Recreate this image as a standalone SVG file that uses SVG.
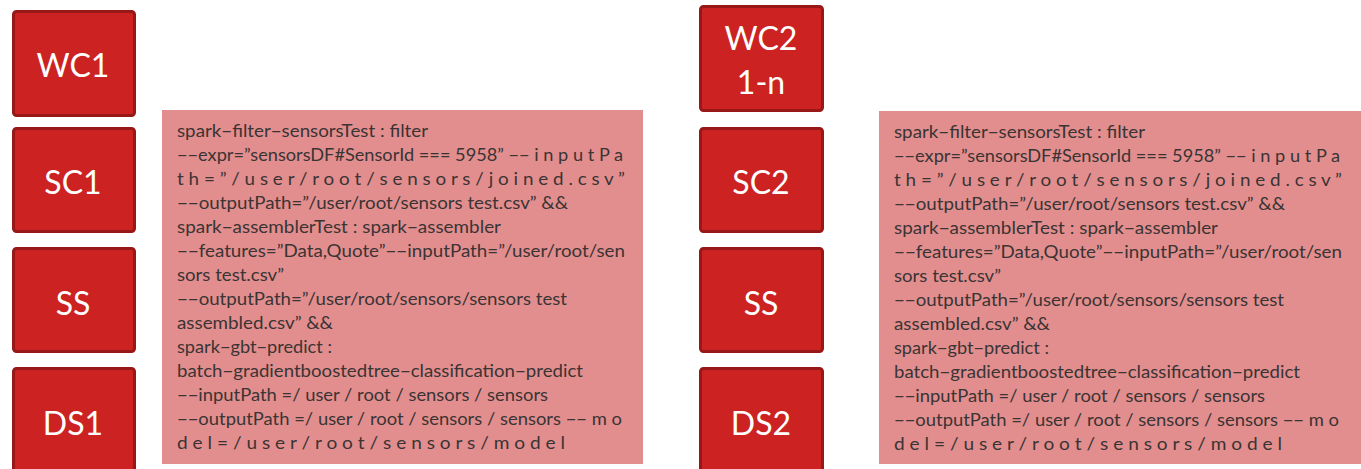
<svg xmlns="http://www.w3.org/2000/svg" width="1361" height="469" viewBox="0 0 1361 469">
<style>
.box{fill:#cc2222;stroke:#981818;stroke-width:3}
.lbl{font-family:Lato,"Open Sans","Liberation Sans",sans-serif;font-size:32px;fill:#ffffff;text-anchor:middle}
.panel{fill:#e38e8e}
.code{font-family:Lato,"Open Sans","Liberation Sans",sans-serif;font-size:16.5px;fill:#3a3434}
</style>
<rect width="1361" height="469" fill="#ffffff"/>
<g id="connectors"></g>
<g id="WC1"><rect class="box" x="13.5" y="11.5" width="121" height="104" rx="3"/><text class="lbl" x="73" y="77">WC1</text></g>
<g id="SC1"><rect class="box" x="13.5" y="128.5" width="121" height="103" rx="3"/><text class="lbl" x="73" y="194">SC1</text></g>
<g id="SS1"><rect class="box" x="13.5" y="248.5" width="121" height="103" rx="3"/><text class="lbl" x="73" y="315">SS</text></g>
<g id="DS1"><rect class="box" x="13.5" y="368.5" width="121" height="110" rx="3"/><text class="lbl" x="73" y="435">DS1</text></g>
<g id="WC2"><rect class="box" x="700.5" y="6.5" width="122" height="104" rx="3"/><text class="lbl" x="761" y="50">WC2</text><text class="lbl" x="761" y="94">1-n</text></g>
<g id="SC2"><rect class="box" x="700.5" y="128.5" width="122" height="103" rx="3"/><text class="lbl" x="761" y="194">SC2</text></g>
<g id="SS2"><rect class="box" x="700.5" y="248.5" width="122" height="103" rx="3"/><text class="lbl" x="761" y="315">SS</text></g>
<g id="DS2"><rect class="box" x="700.5" y="368.5" width="122" height="110" rx="3"/><text class="lbl" x="761" y="435">DS2</text></g>
<g id="cmd1">
<rect class="panel" x="162" y="110" width="481" height="354"/>
<text class="code" x="177" y="137" textLength="251" lengthAdjust="spacingAndGlyphs">spark−filter−sensorsTest : filter</text>
<text class="code" x="177" y="161" textLength="446" lengthAdjust="spacingAndGlyphs">−−expr=”sensorsDF#SensorId === 5958” −− i n p u t P a</text>
<text class="code" x="177" y="185" textLength="448" lengthAdjust="spacingAndGlyphs">t h = ” / u s e r / r o o t / s e n s o r s / j o i n e d . c s v ”</text>
<text class="code" x="177" y="209" textLength="391" lengthAdjust="spacingAndGlyphs">−−outputPath=”/user/root/sensors test.csv” &amp;&amp;</text>
<text class="code" x="177" y="233" textLength="324" lengthAdjust="spacingAndGlyphs">spark−assemblerTest : spark−assembler</text>
<text class="code" x="177" y="257" textLength="448" lengthAdjust="spacingAndGlyphs">−−features=”Data,Quote”−−inputPath=”/user/root/sen</text>
<text class="code" x="177" y="281" textLength="107" lengthAdjust="spacingAndGlyphs">sors test.csv”</text>
<text class="code" x="177" y="305" textLength="390" lengthAdjust="spacingAndGlyphs">−−outputPath=”/user/root/sensors/sensors test</text>
<text class="code" x="177" y="329" textLength="156" lengthAdjust="spacingAndGlyphs">assembled.csv” &amp;&amp;</text>
<text class="code" x="177" y="353" textLength="155" lengthAdjust="spacingAndGlyphs">spark−gbt−predict :</text>
<text class="code" x="177" y="377" textLength="406" lengthAdjust="spacingAndGlyphs">batch−gradientboostedtree−classification−predict</text>
<text class="code" x="177" y="401" textLength="371" lengthAdjust="spacingAndGlyphs">−−inputPath =/ user / root / sensors / sensors</text>
<text class="code" x="177" y="425" textLength="445" lengthAdjust="spacingAndGlyphs">−−outputPath =/ user / root / sensors / sensors −− m o</text>
<text class="code" x="177" y="449" textLength="388" lengthAdjust="spacingAndGlyphs">d e l = / u s e r / r o o t / s e n s o r s / m o d e l</text>
</g>
<g id="cmd2">
<rect class="panel" x="879" y="111" width="482" height="353"/>
<text class="code" x="894" y="138" textLength="251" lengthAdjust="spacingAndGlyphs">spark−filter−sensorsTest : filter</text>
<text class="code" x="894" y="162" textLength="446" lengthAdjust="spacingAndGlyphs">−−expr=”sensorsDF#SensorId === 5958” −− i n p u t P a</text>
<text class="code" x="894" y="186" textLength="448" lengthAdjust="spacingAndGlyphs">t h = ” / u s e r / r o o t / s e n s o r s / j o i n e d . c s v ”</text>
<text class="code" x="894" y="210" textLength="391" lengthAdjust="spacingAndGlyphs">−−outputPath=”/user/root/sensors test.csv” &amp;&amp;</text>
<text class="code" x="894" y="234" textLength="324" lengthAdjust="spacingAndGlyphs">spark−assemblerTest : spark−assembler</text>
<text class="code" x="894" y="258" textLength="448" lengthAdjust="spacingAndGlyphs">−−features=”Data,Quote”−−inputPath=”/user/root/sen</text>
<text class="code" x="894" y="282" textLength="107" lengthAdjust="spacingAndGlyphs">sors test.csv”</text>
<text class="code" x="894" y="306" textLength="390" lengthAdjust="spacingAndGlyphs">−−outputPath=”/user/root/sensors/sensors test</text>
<text class="code" x="894" y="330" textLength="156" lengthAdjust="spacingAndGlyphs">assembled.csv” &amp;&amp;</text>
<text class="code" x="894" y="354" textLength="155" lengthAdjust="spacingAndGlyphs">spark−gbt−predict :</text>
<text class="code" x="894" y="378" textLength="406" lengthAdjust="spacingAndGlyphs">batch−gradientboostedtree−classification−predict</text>
<text class="code" x="894" y="402" textLength="371" lengthAdjust="spacingAndGlyphs">−−inputPath =/ user / root / sensors / sensors</text>
<text class="code" x="894" y="426" textLength="445" lengthAdjust="spacingAndGlyphs">−−outputPath =/ user / root / sensors / sensors −− m o</text>
<text class="code" x="894" y="450" textLength="388" lengthAdjust="spacingAndGlyphs">d e l = / u s e r / r o o t / s e n s o r s / m o d e l</text>
</g>
</svg>
